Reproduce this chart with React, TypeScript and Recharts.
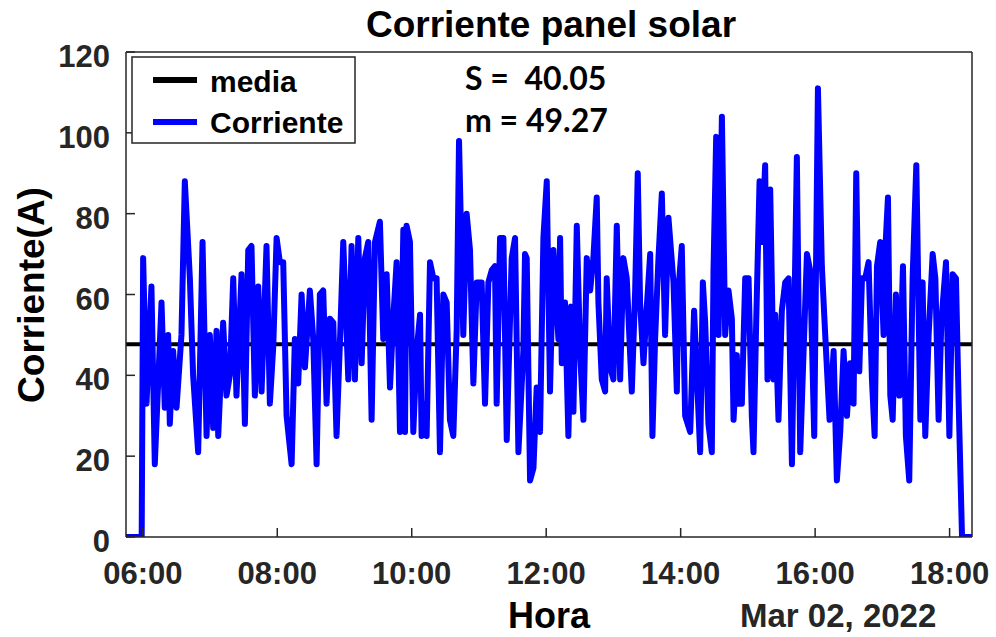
import React from 'react';
import { LineChart, Line, XAxis, YAxis } from 'recharts';

// time in minutes after midnight
const HORA_MIN = [
  345, 359, 360.3, 363.3, 367.7, 370.7, 376.7, 379.6, 382.6, 384.1, 387.1, 390.1, 394.5, 397.5, 402, 404.9,
  409.4, 413.3, 416.9, 419.8, 422.8, 425.8, 427.3, 431.7, 434.7, 437.7, 440.7, 443.6, 448.1, 451.1, 454.1, 457,
  460, 463, 466, 470.4, 473.4, 476.4, 479.4, 482.3, 485.3, 488.3, 492.8, 495.7, 498.7, 501.7, 504.7, 509.1,
  512.1, 515.1, 518, 521, 524, 527, 530, 532.9, 535.9, 538.9, 543.4, 546.3, 549.3, 552.3, 555.3, 558.2,
  561.2, 564.2, 567.2, 571.6, 574.6, 577.6, 580.6, 583.5, 586.5, 589.5, 592.5, 594, 595.4, 598.4, 601.4, 604.4,
  607.4, 608.8, 611.8, 613.3, 616.3, 619.3, 622.2, 625.2, 628.2, 631.2, 634.1, 637.1, 640.1, 642.2, 646, 649,
  652, 655, 658, 662.4, 665.4, 668.4, 671.4, 674.3, 675.8, 678.8, 681.8, 684.8, 689.2, 692.2, 695.2, 699.6,
  701.1, 702.6, 705.6, 708.6, 711.5, 714.5, 717.5, 720.5, 723.4, 726.4, 730.9, 732.4, 733.9, 736.8, 739.8, 742.2,
  744.3, 747.3, 750.2, 753.2, 756.2, 759.2, 762.1, 765.1, 766.6, 769.6, 772.6, 774, 777, 780, 783, 786,
  788.9, 791.9, 796.4, 799.4, 801.7, 803.8, 806.8, 809.8, 812.8, 814.8, 817.2, 820.2, 823.2, 826.1, 829.1, 833.6,
  836.6, 838, 841, 844, 848.5, 852, 857.4, 859.8, 861.9, 864.8, 867.8, 869.3, 871.7, 873.8, 876.8, 879.7,
  882.7, 885.7, 887.2, 890.1, 891.6, 894.6, 897.6, 900.6, 903.5, 905, 907.4, 910.4, 912.5, 915.4, 917.5, 919.9,
  922.9, 924.4, 927.3, 930.3, 933.3, 936.3, 939.3, 943.7, 946.7, 949.7, 952.7, 955.6, 959.2, 962.5, 966, 969,
  972.9, 976.5, 979.4, 982.4, 985.4, 988.4, 991.3, 994.3, 996.7, 999.4, 1001.8, 1004.7, 1007.7, 1010.7, 1013.1, 1015.2,
  1018.1, 1021.1, 1022.6, 1025, 1027.1, 1029.2, 1032.1, 1035.1, 1038.4, 1041, 1044, 1047, 1050.3, 1053.9, 1055.9, 1058.3,
  1061.3, 1064.9, 1067.3, 1070.2, 1072.6, 1076.8, 1079.8, 1082.7, 1085.7, 1088.1, 1091.1, 1100,
];

const CORRIENTE = [
  0, 0, 69, 33, 62, 18, 58, 32, 50, 28, 46, 32, 50, 88, 64, 40,
  21, 73, 25, 50, 27, 51, 25, 53, 35, 40, 64, 35, 65, 28, 71, 72,
  35, 62, 36, 72, 33, 47, 74, 68, 68, 30, 18, 49, 38, 60, 42, 61,
  49, 18, 60, 61, 33, 54, 53, 25, 48, 73, 39, 72, 39, 74, 43, 69,
  73, 29, 73, 78, 49, 65, 37, 54, 68, 26, 76, 26, 77, 73, 26, 46,
  55, 25, 33, 25, 68, 64, 64, 21, 60, 58, 29, 25, 51, 98, 50, 80,
  71, 38, 63, 63, 33, 63, 66, 67, 33, 74, 74, 24, 69, 74, 21, 46,
  70, 69, 14, 17, 37, 26, 74, 88, 36, 71, 49, 74, 43, 58, 25, 57,
  31, 77, 46, 29, 69, 61, 69, 84, 58, 39, 36, 64, 42, 39, 77, 39,
  69, 64, 36, 61, 90, 58, 43, 57, 70, 25, 49, 69, 85, 50, 79, 63,
  36, 61, 72, 30, 26, 56, 21, 63, 53, 28, 21, 66, 99, 50, 104, 50,
  61, 54, 29, 45, 33, 33, 64, 64, 30, 21, 53, 88, 73, 92, 39, 86,
  39, 55, 29, 56, 63, 64, 18, 94, 21, 46, 70, 66, 25, 111, 67, 50,
  29, 46, 14, 26, 46, 30, 43, 33, 90, 41, 64, 64, 68, 39, 25, 67,
  73, 50, 71, 84, 35, 29, 60, 35, 67, 25, 14, 64, 92, 29, 63, 25,
  50, 70, 64, 29, 53, 68, 25, 65, 64, 33, 0, 0,
];

const MEDIA = 47.7;
const X_TICKS = [360, 480, 600, 720, 840, 960, 1080];
const Y_TICKS = [0, 20, 40, 60, 80, 100, 120];
const X_DOMAIN: [number, number] = [345, 1100];
const Y_DOMAIN: [number, number] = [0, 120];

const data = HORA_MIN.map((t, i) => ({ t, corriente: CORRIENTE[i], media: MEDIA }));

const fmt = (m: number) => {
  const h = Math.floor(m / 60);
  const mm = Math.round(m - h * 60);
  return `${String(h).padStart(2, '0')}:${String(mm).padStart(2, '0')}`;
};

const AX = '#262626';
const FONT = '"Liberation Sans", Arial, Helvetica, sans-serif';
const tickStyle = { fill: AX, fontSize: 31, fontWeight: 'bold', fontFamily: FONT };

export default function App() {
  return (
    <div style={{ position: 'absolute', left: 0, top: 0, width: 996, height: 637, background: '#fff' }}>
      <LineChart
        width={996}
        height={637}
        data={data}
        margin={{ top: 51, right: 23, bottom: 50, left: 26 }}
      >
        <XAxis
          dataKey="t"
          type="number"
          domain={X_DOMAIN}
          ticks={X_TICKS}
          tickFormatter={fmt}
          allowDataOverflow
          height={50}
          tickSize={-9}
          tickMargin={34}
          axisLine={{ stroke: AX, strokeWidth: 1.5 }}
          tickLine={{ stroke: AX, strokeWidth: 1.5 }}
          tick={tickStyle}
          interval={0}
        />
        <XAxis
          xAxisId="top"
          orientation="top"
          dataKey="t"
          type="number"
          domain={X_DOMAIN}
          ticks={X_TICKS}
          allowDataOverflow
          height={1}
          tickSize={-9}
          axisLine={{ stroke: AX, strokeWidth: 1.5 }}
          tickLine={{ stroke: AX, strokeWidth: 1.5 }}
          tick={false}
        />
        <YAxis
          type="number"
          domain={Y_DOMAIN}
          ticks={Y_TICKS}
          allowDataOverflow
          width={100}
          tickSize={-9}
          tickMargin={25}
          axisLine={{ stroke: AX, strokeWidth: 1.5 }}
          tickLine={{ stroke: AX, strokeWidth: 1.5 }}
          tick={{ ...tickStyle, dy: 4 }}
          interval={0}
        />
        <YAxis
          yAxisId="right"
          orientation="right"
          type="number"
          domain={Y_DOMAIN}
          ticks={Y_TICKS}
          allowDataOverflow
          width={1}
          tickSize={-9}
          axisLine={{ stroke: AX, strokeWidth: 1.5 }}
          tickLine={{ stroke: AX, strokeWidth: 1.5 }}
          tick={false}
        />
        <Line
          dataKey="media"
          type="linear"
          stroke="#000000"
          strokeWidth={4}
          dot={false}
          activeDot={false}
          isAnimationActive={false}
        />
        <Line
          dataKey="corriente"
          type="linear"
          stroke="#0000ff"
          strokeWidth={6}
          strokeLinejoin="round"
          strokeLinecap="round"
          dot={false}
          activeDot={false}
          isAnimationActive={false}
        />
      </LineChart>
      <svg
        width={996}
        height={637}
        style={{ position: 'absolute', left: 0, top: 0, pointerEvents: 'none' }}
      >
        <text x={551} y={37} textAnchor="middle" fontFamily={FONT} fontWeight="bold" fontSize={37} fill="#000">
          Corriente panel solar
        </text>
        <text
          transform="translate(44,295) rotate(-90)"
          textAnchor="middle"
          fontFamily={FONT}
          fontWeight="bold"
          fontSize={37}
          fill="#000"
        >
          Corriente(A)
        </text>
        <text x={549} y={628} textAnchor="middle" fontFamily={FONT} fontWeight="bold" fontSize={36} fill="#000">
          Hora
        </text>
        <text x={740} y={627} fontFamily={FONT} fontWeight="bold" fontSize={33} fill={AX}>
          Mar 02, 2022
        </text>
        <g>
          <rect x={132} y={57} width={223} height={86} fill="#fff" stroke={AX} strokeWidth={1.5} />
          <line x1={153} y1={80} x2={197} y2={80} stroke="#000" strokeWidth={6} />
          <line x1={153} y1={122} x2={197} y2={122} stroke="#0000ff" strokeWidth={6} />
          <text x={210} y={92} fontFamily={FONT} fontWeight="bold" fontSize={30} fill="#000">media</text>
          <text x={210} y={133} fontFamily={FONT} fontWeight="bold" fontSize={30} fill="#000">Corriente</text>
        </g>
        <text x={465} y={90} fontFamily='Lato, "Open Sans", sans-serif' fontWeight="bold" fontSize={32} fill="#000" style={{ whiteSpace: 'pre' }}>
          {'S =  40.05'}
        </text>
        <text x={465} y={132} fontFamily='Lato, "Open Sans", sans-serif' fontWeight="bold" fontSize={32} fill="#000">
          m = 49.27
        </text>
      </svg>
    </div>
  );
}
